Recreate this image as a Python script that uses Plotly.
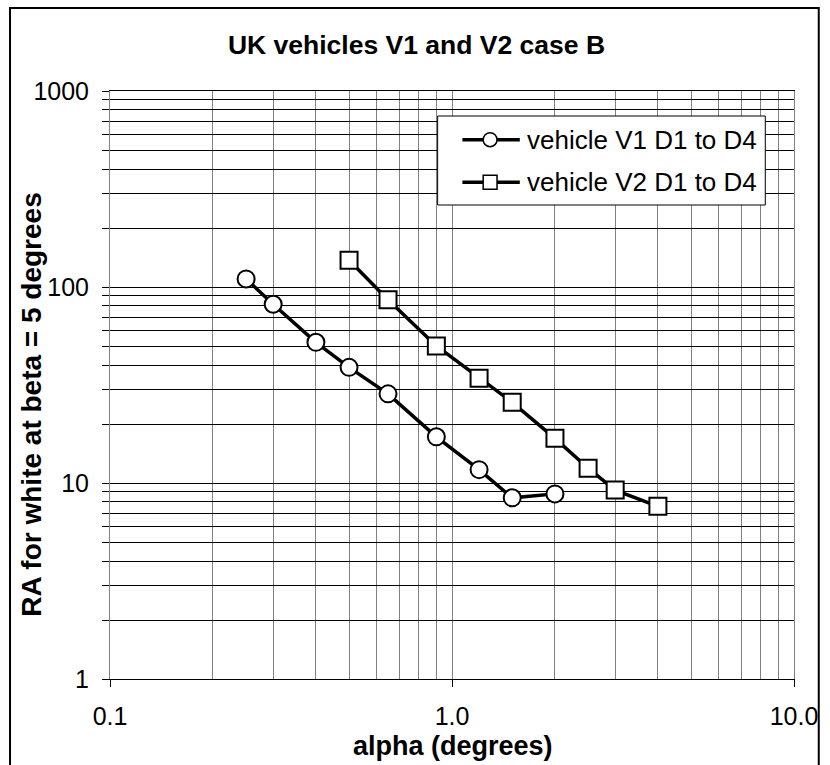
import plotly.graph_objects as go

# Data
alpha_v1 = [0.25, 0.3, 0.4, 0.5, 0.65, 0.9, 1.2, 1.5, 2.0]
ra_v1 = [110, 81.6, 52.2, 38.9, 28.5, 17.2, 11.7, 8.4, 8.8]
alpha_v2 = [0.5, 0.65, 0.9, 1.2, 1.5, 2.0, 2.5, 3.0, 4.0]
ra_v2 = [137, 86, 50, 34.2, 25.8, 16.9, 11.9, 9.2, 7.6]
series_names = ["vehicle V1 D1 to D4", "vehicle V2 D1 to D4"]

x_major = [0.1, 1, 10]
x_major_text = ["0.1", "1.0", "10.0"]
x_minor = [0.2, 0.3, 0.4, 0.5, 0.6, 0.7, 0.8, 0.9, 2, 3, 4, 5, 6, 7, 8, 9]
y_vals = [m * 10 ** e for e in range(3) for m in range(1, 10)] + [1000]
y_text = [str(v) if v in (1, 10, 100, 1000) else "" for v in y_vals]

FONT = "Liberation Sans, Arial, sans-serif"
W, H = 830, 765
L, R, T, B = 110, 801, 91, 679


def px(x):
    return (x - L) / (R - L)


def py(y):
    return (B - y) / (B - T)


fig = go.Figure()
fig.add_trace(go.Scatter(
    x=alpha_v1, y=ra_v1, mode="lines+markers", name=series_names[0],
    line=dict(color="black", width=3.5), showlegend=False,
    marker=dict(symbol="circle", size=17, color="white", line=dict(color="black", width=2)),
))
fig.add_trace(go.Scatter(
    x=alpha_v2, y=ra_v2, mode="lines+markers", name=series_names[1],
    line=dict(color="black", width=3.5), showlegend=False,
    marker=dict(symbol="square", size=17, color="white", line=dict(color="black", width=2)),
))

# outer chart border
fig.add_shape(type="rect", xref="paper", yref="paper",
              x0=px(9), x1=px(826), y0=py(790), y1=py(8),
              line=dict(color="black", width=2), fillcolor="rgba(0,0,0,0)", layer="above")
# legend box
fig.add_shape(type="rect", xref="paper", yref="paper",
              x0=px(441), x1=px(772), y0=py(205), y1=py(116),
              line=dict(color="black", width=1), fillcolor="white", layer="above")
# legend entries (line sample, marker glyph, text)
for i, (name, sym) in enumerate(zip(series_names, ["circle", "square"])):
    yc = 139.7 + i * 42.6
    fig.add_shape(type="line", xref="paper", yref="paper",
                  x0=px(466), x1=px(524), y0=py(yc), y1=py(yc),
                  line=dict(color="black", width=3.5), layer="above")
    kind = "circle" if sym == "circle" else "rect"
    fig.add_shape(type=kind, xref="paper", yref="paper",
                  x0=px(487), x1=px(501), y0=py(yc + 7), y1=py(yc - 7),
                  line=dict(color="black", width=1.5), fillcolor="white", layer="above")
    fig.add_annotation(text=name, xref="paper", yref="paper", x=px(529), y=py(yc),
                       xanchor="left", yanchor="middle", showarrow=False,
                       font=dict(family=FONT, size=26, color="black"))

fig.add_annotation(text="<b>RA for white at beta = 5 degrees</b>", xref="paper", yref="paper",
                   x=px(30), y=py(404), xanchor="center", yanchor="middle",
                   textangle=-90, showarrow=False,
                   font=dict(family=FONT, size=28, color="black"))
fig.add_annotation(text="<b>alpha (degrees)</b>", xref="paper", yref="paper",
                   x=px(457), y=py(746), xanchor="center", yanchor="middle", showarrow=False,
                   font=dict(family=FONT, size=27, color="black"))

fig.update_layout(
    width=W, height=H,
    margin=dict(l=L, r=W - R, t=T, b=H - B),
    paper_bgcolor="white", plot_bgcolor="white",
    font=dict(family=FONT, size=25, color="black"),
    title=dict(text="<b>UK vehicles V1 and V2 case B</b>", x=416.5 / W, xanchor="center",
               y=1 - 45 / H, yanchor="middle", font=dict(family=FONT, size=26.5, color="black")),
    showlegend=False,
    xaxis=dict(type="log", range=[-1, 1], tickmode="array", tickvals=x_major, ticktext=x_major_text,
               ticks="outside", ticklen=7, tickcolor="black", tickwidth=1,
               showgrid=True, gridcolor="#808080", gridwidth=1,
               minor=dict(tickmode="array", tickvals=x_minor, showgrid=True, gridcolor="#808080",
                          gridwidth=1, ticks=""),
               showline=True, linecolor="black", linewidth=1, mirror=True,
               zeroline=False, ticklabelstandoff=8),
    yaxis=dict(type="log", range=[0, 3], tickmode="array", tickvals=y_vals, ticktext=y_text,
               ticks="outside", ticklen=7, tickcolor="black", tickwidth=1,
               showgrid=True, gridcolor="black", gridwidth=1,
               showline=True, linecolor="#808080", linewidth=1, mirror=True,
               zeroline=False, ticklabelstandoff=8),
)

fig.write_html("out.html")
